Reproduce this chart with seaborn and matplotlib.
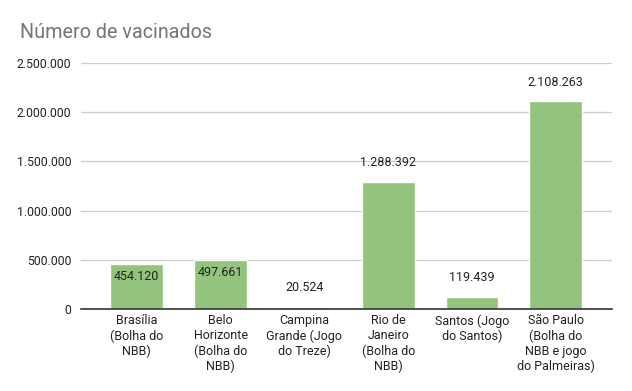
import matplotlib
matplotlib.use("Agg")
import matplotlib.pyplot as plt
import seaborn as sns
import pandas as pd

# dados
cidades = [
    "Brasília\n(Bolha do\nNBB)",
    "Belo\nHorizonte\n(Bolha do\nNBB)",
    "Campina\nGrande (Jogo\ndo Treze)",
    "Rio de\nJaneiro\n(Bolha do\nNBB)",
    "Santos (Jogo\ndo Santos)",
    "São Paulo\n(Bolha do\nNBB e jogo\ndo Palmeiras)",
]
vacinados = [454120, 497661, 20524, 1288392, 119439, 2108263]
yticks = [0, 500000, 1000000, 1500000, 2000000, 2500000]

df = pd.DataFrame({"cidade": cidades, "vacinados": vacinados})


def fmt(v):
    return f"{v:,}".replace(",", ".")


sns.set_style("white")
plt.rcParams["font.family"] = ["Roboto", "DejaVu Sans"]

fig = plt.figure(figsize=(6.32, 3.91), dpi=100)
ax = fig.add_axes([0.128, 0.21, 0.84, 0.629])

sns.barplot(data=df, x="cidade", y="vacinados", color="#93c47d",
            saturation=1, width=0.63, ax=ax, zorder=3)

ax.set_xlim(-0.667, 5.667)
ax.set_ylim(0, 2500000)
ax.set_yticks(yticks)
ax.set_yticklabels([fmt(v) for v in yticks], fontsize=8.8, color="#222222")
ax.tick_params(axis="both", length=0, pad=7)
ax.tick_params(axis="x", labelsize=9, labelcolor="#222222", pad=4)
ax.grid(axis="y", color="#cccccc", linewidth=0.9, zorder=0)
ax.set_xlabel("")
ax.set_ylabel("")
for s in ["top", "right", "left"]:
    ax.spines[s].set_visible(False)
ax.spines["bottom"].set_color("#333333")
ax.spines["bottom"].set_linewidth(1.2)
ax.spines["bottom"].set_zorder(4)

# rótulos (os dois primeiros ficam dentro da barra, como no original)
dentro = [True, True, False, False, False, False]
for i, v in enumerate(vacinados):
    off = -9 if dentro[i] else 14
    ax.annotate(fmt(v), (i, v), xytext=(0, off), textcoords="offset points",
                ha="center", va="center", fontsize=9, color="#222222", zorder=5)

fig.text(0.032, 0.918, "Número de vacinados", fontsize=14.2, color="#757575",
         ha="left", va="center")

fig.savefig("out.png", dpi=100, facecolor="white")
